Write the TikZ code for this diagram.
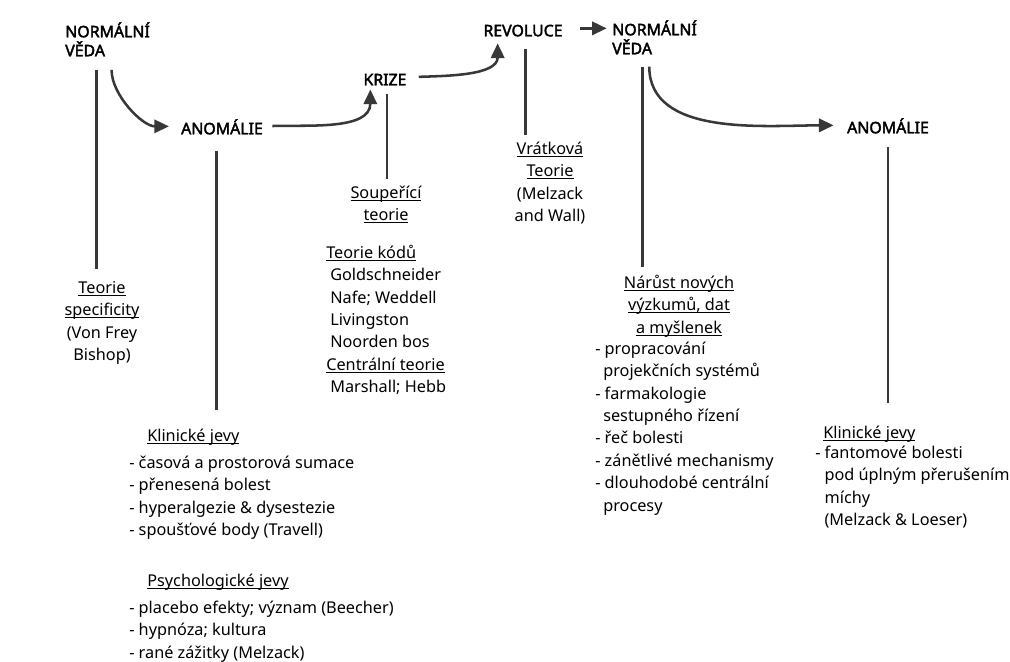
\documentclass[tikz,border=0pt]{standalone}
\usepackage{fontspec}
\setmainfont{Noto Sans}
\newfontfamily\titlefont[FakeBold=2.5]{Noto Sans}
\usetikzlibrary{arrows.meta,calc}
\definecolor{linegray}{HTML}{383838}
% fixed-height strut on the first line of each label
\newcommand\topstrut{\rule{0pt}{12pt}}
% underline sitting just below the baseline
\newcommand\undl[1]{\setbox0\hbox{#1}\rlap{\rule[-2pt]{\wd0}{0.7pt}}\box0}
\begin{document}
\begin{tikzpicture}[x=0.75pt,y=-0.75pt,
  title/.style={font=\titlefont\fontsize{11.9}{14.25}\selectfont, inner sep=0pt, text=black},
  body/.style={font=\fontsize{12.2}{16.8}\selectfont, inner sep=0pt, text=black},
  link/.style={draw=linegray, line width=1.9pt},
  arr/.style={link, -{Triangle[length=11pt,width=10pt]}},
]
\useasboundingbox (0,0) rectangle (1010,661);

% stage titles
\node[title, anchor=north west, align=left] (nvA) at (65,21) {\topstrut NORMÁLNÍ\\VĚDA};
\node[title, anchor=north] (anA) at (222,118) {\topstrut ANOMÁLIE};
\node[title, anchor=north] (kr) at (385,69) {\topstrut KRIZE};
\node[title, anchor=north] (rev) at (523,20) {\topstrut REVOLUCE};
\node[title, anchor=north west, align=left] (nvB) at (612,19) {\topstrut NORMÁLNÍ\\VĚDA};
\node[title, anchor=north] (anB) at (888,117) {\topstrut ANOMÁLIE};

% descriptions
\node[body, anchor=north, align=center] (spec) at (102,277)
  {\topstrut\undl{Teorie}\\\undl{specificity}\\(Von Frey\\Bishop)};
\node[body, anchor=north, align=center] (soup) at (386,182)
  {\topstrut\undl{Soupeřící}\\\undl{teorie}};
\node[body, anchor=north west, align=left] (kody) at (326,242)
  {\topstrut\undl{Teorie kódů}\\
   \hspace*{3pt}Goldschneider\\
   \hspace*{3pt}Nafe; Weddell\\
   \hspace*{3pt}Livingston\\
   \hspace*{3pt}Noorden bos\\
   \undl{Centrální teorie}\\
   \hspace*{3pt}Marshall; Hebb};
\node[body, anchor=north, align=center] (vrat) at (550,138)
  {\topstrut\undl{Vrátková}\\\undl{Teorie}\\(Melzack\\and Wall)};
\node[body, anchor=north, align=center] (narust) at (679,272)
  {\topstrut\undl{Nárůst nových}\\\undl{výzkumů, dat}\\\undl{a myšlenek}};
\node[body, anchor=north west, align=left] (narustL) at (595,338)
  {\topstrut - propracování\\
   \hspace*{6pt}projekčních systémů\\
   - farmakologie\\
   \hspace*{6pt}sestupného řízení\\
   - řeč bolesti\\
   - zánětlivé mechanismy\\
   - dlouhodobé centrální\\
   \hspace*{6pt}procesy};
\node[body, anchor=north west, align=left] (klinA) at (147,425)
  {\topstrut\undl{Klinické jevy}};
\node[body, anchor=north west, align=left] (klinAL) at (129,452)
  {\topstrut - časová a prostorová sumace\\
   - přenesená bolest\\
   - hyperalgezie \& dysestezie\\
   - spoušťové body (Travell)};
\node[body, anchor=north west, align=left] (psych) at (147,570)
  {\topstrut\undl{Psychologické jevy}};
\node[body, anchor=north west, align=left] (psychL) at (129,597)
  {\topstrut - placebo efekty; význam (Beecher)\\
   - hypnóza; kultura\\
   - rané zážitky (Melzack)};
\node[body, anchor=north west, align=left] (klinB) at (823,422)
  {\topstrut\undl{Klinické jevy}};
\node[body, anchor=north west, align=left] (klinBL) at (815,442)
  {\topstrut - fantomové bolesti\\
   \hspace*{7pt}pod úplným přerušením\\
   \hspace*{7pt}míchy\\
   \hspace*{7pt}(Melzack \& Loeser)};

% stems from each stage down to its description
\draw[link, shorten <=10pt, shorten >=6pt] ([xshift=-4pt]spec.north |- nvA.south) -- ([xshift=-4pt]spec.north);
\draw[link, shorten <=12pt, shorten >=11pt] ([xshift=-4pt]anA.south) -- ([xshift=-4pt]anA.south |- klinA.north);
\draw[link, shorten <=6pt, shorten >=2pt] ([xshift=1.5pt]kr.south) -- ([xshift=1.5pt]kr.south |- soup.north);
\draw[link, shorten <=9pt, shorten >=2pt] ([xshift=2pt]rev.south) -- ([xshift=2pt]rev.south |- vrat.north);
\draw[link, shorten <=9pt, shorten >=4pt] ([xshift=-9pt]nvB.south) -- ([xshift=-9pt]nvB.south |- narust.north);
\draw[link, shorten <=10pt, shorten >=14pt] (anB.south) -- (anB.south |- klinB.north);

% transitions between stages
\draw[arr, shorten <=10pt, shorten >=9pt] ([xshift=3pt]nvA.south) to[out=-90,in=180] (anA.west);
\draw[arr, shorten <=7pt, shorten >=3pt] (anA.east) to[out=2,in=-90] ([xshift=-11pt]kr.south);
\draw[arr, shorten <=9pt, shorten >=5pt] (kr.east) to[out=2,in=-90] ([xshift=-19pt]rev.south);
\draw[arr, shorten <=13pt, shorten >=4pt] (rev.east) -- (rev.east -| nvB.west);
\draw[arr, shorten <=9pt, shorten >=10pt] ([xshift=-4pt]nvB.south) to[out=-90,in=180] (anB.west);
\end{tikzpicture}
\end{document}
